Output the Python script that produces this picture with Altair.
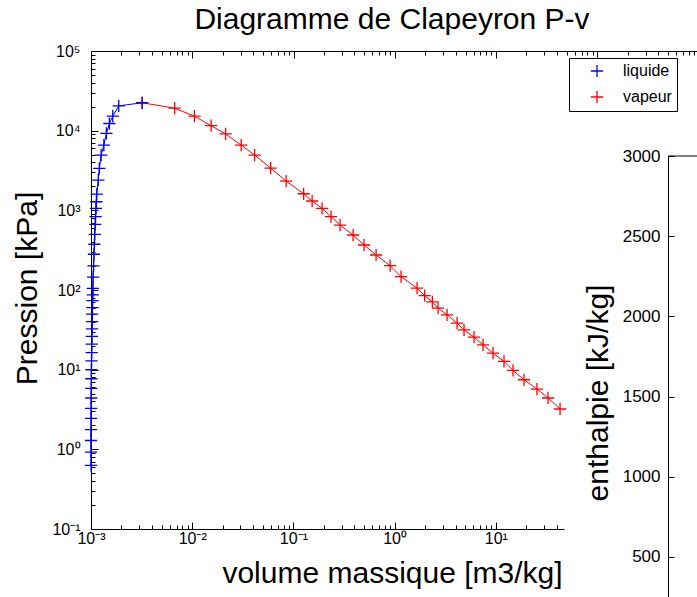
import altair as alt
import pandas as pd

FONT = "Liberation Sans"
PLUS = "M-1,0L1,0M0,-1L0,1"

# Liquide saturé : volume massique [m3/kg], pression [kPa]
liq_v = [1.000e-3, 1.000e-3, 1.000e-3, 1.001e-3, 1.002e-3, 1.003e-3, 1.004e-3,
         1.006e-3, 1.008e-3, 1.010e-3, 1.012e-3, 1.015e-3, 1.017e-3, 1.020e-3,
         1.023e-3, 1.026e-3, 1.029e-3, 1.033e-3, 1.036e-3, 1.040e-3, 1.044e-3,
         1.05e-3, 1.06e-3, 1.07e-3, 1.08e-3, 1.09e-3, 1.10e-3, 1.11e-3, 1.12e-3,
         1.13e-3, 1.14e-3, 1.18e-3, 1.21e-3, 1.26e-3, 1.34e-3, 1.42e-3, 1.52e-3,
         1.64e-3, 1.88e-3, 3.2e-3]
liq_p = [0.63, 0.92, 1.29, 1.77, 2.45, 3.27, 4.41, 5.81, 7.69, 9.97, 12.9, 16.4,
         20.9, 26.1, 32.5, 40.2, 49.7, 60.1, 73.6, 86.9, 105,
         145, 201, 281, 375, 500, 668, 832, 1059, 1282, 1600,
         2397, 3360, 4930, 6580, 9230, 12300, 15200, 20470, 22400]

# Vapeur saturée
vap_v = [3.2e-3, 6.71e-3, 0.01052, 0.01538, 0.02138, 0.03045, 0.0414, 0.05958,
         0.0848, 0.1262, 0.1531, 0.1921, 0.2355, 0.2891, 0.389, 0.499, 0.656,
         0.902, 1.158, 1.666, 1.98, 2.36, 2.686, 3.296, 4.14, 4.85, 6.09, 7.48,
         9.38, 12.05, 14.79, 19.0, 25.5, 32.8, 43.1]
vap_p = [22400, 19140, 15200, 11550, 9090, 6580, 4930, 3390, 2330, 1614, 1309,
         1059, 832, 654, 490, 367, 275, 202, 147, 105.4, 85, 71, 59.2, 48.8,
         38.4, 31.6, 25.6, 20.5, 16.1, 12.7, 9.77, 7.47, 5.71, 4.41, 3.21]

series = ["liquide", "vapeur"]
colors = ["#0000ff", "#ff0000"]

x_major = [0.001, 0.01, 0.1, 1, 10]
x_major_labels = ["10⁻³", "10⁻²", "10⁻¹", "10⁰", "10¹"]
x_top_major = [0.001, 0.01, 0.1, 1, 10, 100, 1000]
y_major = [0.1, 1, 10, 100, 1000, 10000, 100000]
y_major_labels = ["10⁻¹", "10⁰", "10¹", "10²", "10³", "10⁴", "10⁵"]
h_ticks = [500, 1000, 1500, 2000, 2500, 3000]

x_max = 47.17
x_ticks = x_major + [m * d for d in x_major for m in range(2, 10) if m * d <= x_max]
x_top_ticks = x_top_major + [m * d for d in x_top_major[:-1] for m in range(2, 10)]
y_ticks = y_major + [m * d for d in y_major[:-1] for m in range(2, 10)]


def label_expr(vals, labels):
    expr = "''"
    for v, l in reversed(list(zip(vals, labels))):
        expr = f"datum.value == {v} ? '{l}' : ({expr})"
    return expr


major_test = "abs(log(datum.value)/LN10 - round(log(datum.value)/LN10)) < 1e-6"
tick_size = alt.ExprRef(expr=f"({major_test}) ? -7 : -4")

df = pd.DataFrame(
    {"v": liq_v, "p": liq_p, "phase": "liquide", "i": range(len(liq_v))}
)
df = pd.concat(
    [df, pd.DataFrame({"v": vap_v, "p": vap_p, "phase": "vapeur", "i": range(len(vap_v))})],
    ignore_index=True,
)

xs = alt.Scale(type="log", domain=[0.001, x_max], nice=False)
ys = alt.Scale(type="log", domain=[0.1, 100000], nice=False)

x_axis = alt.Axis(
    orient="bottom", values=x_ticks, labelExpr=label_expr(x_major, x_major_labels),
    tickSize=tick_size, labelPadding=8, labelBaseline="top", labelFontSize=16,
    labelFlush=False, labelOverlap=False, title="volume massique [m3/kg]",
    titleFontSize=30, titleX=301, titleY=53, titleAlign="center",
    titleBaseline="alphabetic", grid=False,
)
y_axis = alt.Axis(
    orient="left", values=y_ticks, labelExpr=label_expr(y_major, y_major_labels),
    tickSize=tick_size, labelPadding=18, labelAlign="right", labelBaseline="middle",
    labelFontSize=16, labelFlush=False, labelOverlap=False, title="Pression [kPa]",
    titleFontSize=30, titleAngle=270, titleX=-55, titleY=237, titleAlign="center",
    titleBaseline="alphabetic", grid=False,
)

color = alt.Color(
    "phase:N",
    scale=alt.Scale(domain=series, range=colors),
    legend=alt.Legend(
        orient="none", legendX=478, legendY=7, title=None, symbolType=PLUS,
        symbolSize=150, symbolStrokeWidth=1.3, labelFontSize=16, labelFont=FONT,
        labelColor="black", padding=5, rowPadding=8, symbolOffset=15,
        labelOffset=18, strokeColor="black", fillColor="white", cornerRadius=0,
    ),
)

base = alt.Chart(df).encode(
    x=alt.X("v:Q", scale=xs, axis=x_axis),
    y=alt.Y("p:Q", scale=ys, axis=y_axis),
    color=color,
    order="i:Q",
)
lines = base.mark_line(strokeWidth=1)
points = base.mark_point(shape=PLUS, size=150, strokeWidth=1.3, filled=False,
                         opacity=1)
main = alt.layer(lines, points)

top = alt.Chart(pd.DataFrame({"v": x_top_major})).mark_point(opacity=0).encode(
    x=alt.X(
        "v:Q",
        scale=alt.Scale(type="log", domain=[0.001, 1000], range=[0, 607.5], nice=False),
        axis=alt.Axis(orient="top", values=x_top_ticks, labels=False, title=None,
                      tickSize=tick_size, grid=False),
    )
)

enth = alt.Chart(pd.DataFrame({"h": [3000]})).mark_rule(color="black", strokeWidth=1).encode(
    y=alt.Y(
        "h:Q",
        scale=alt.Scale(domain=[250, 3000], range=[546, 105], nice=False, zero=False),
        axis=alt.Axis(
            orient="right", offset=104, values=h_ticks, format="d",
            labelAlign="right", labelBaseline="middle", labelPadding=-14, tickSize=6,
            labelFontSize=17, title="enthalpie [kJ/kg]", titleAngle=270,
            titleX=-61, titleY=341.5, titleFontSize=30, titleAlign="center",
            titleBaseline="alphabetic", grid=False,
        ),
    ),
    x=alt.value(577),
    x2=alt.value(640),
)

chart = (
    alt.layer(main, top, enth)
    .resolve_scale(x="independent", y="independent")
    .properties(
        width=473,
        height=478,
        title=alt.TitleParams(
            text="Diagramme de Clapeyron P-v", fontSize=30, font=FONT,
            fontWeight="normal", anchor="middle", frame="group", dx=64.5,
            offset=19, dy=35, baseline="alphabetic", color="black",
        ),
        autosize=alt.AutoSizeParams(type="none"),
        padding={"left": 91, "top": 51, "right": 133, "bottom": 68},
        background="white",
    )
    .configure_view(stroke=None)
    .configure_axis(
        labelFont=FONT, titleFont=FONT, titleFontWeight="normal",
        domainColor="black", tickColor="black", labelColor="black",
        titleColor="black", domainWidth=1, tickWidth=1,
    )
)

chart.save("out.html", embed_options={"renderer": "svg", "actions": False})
